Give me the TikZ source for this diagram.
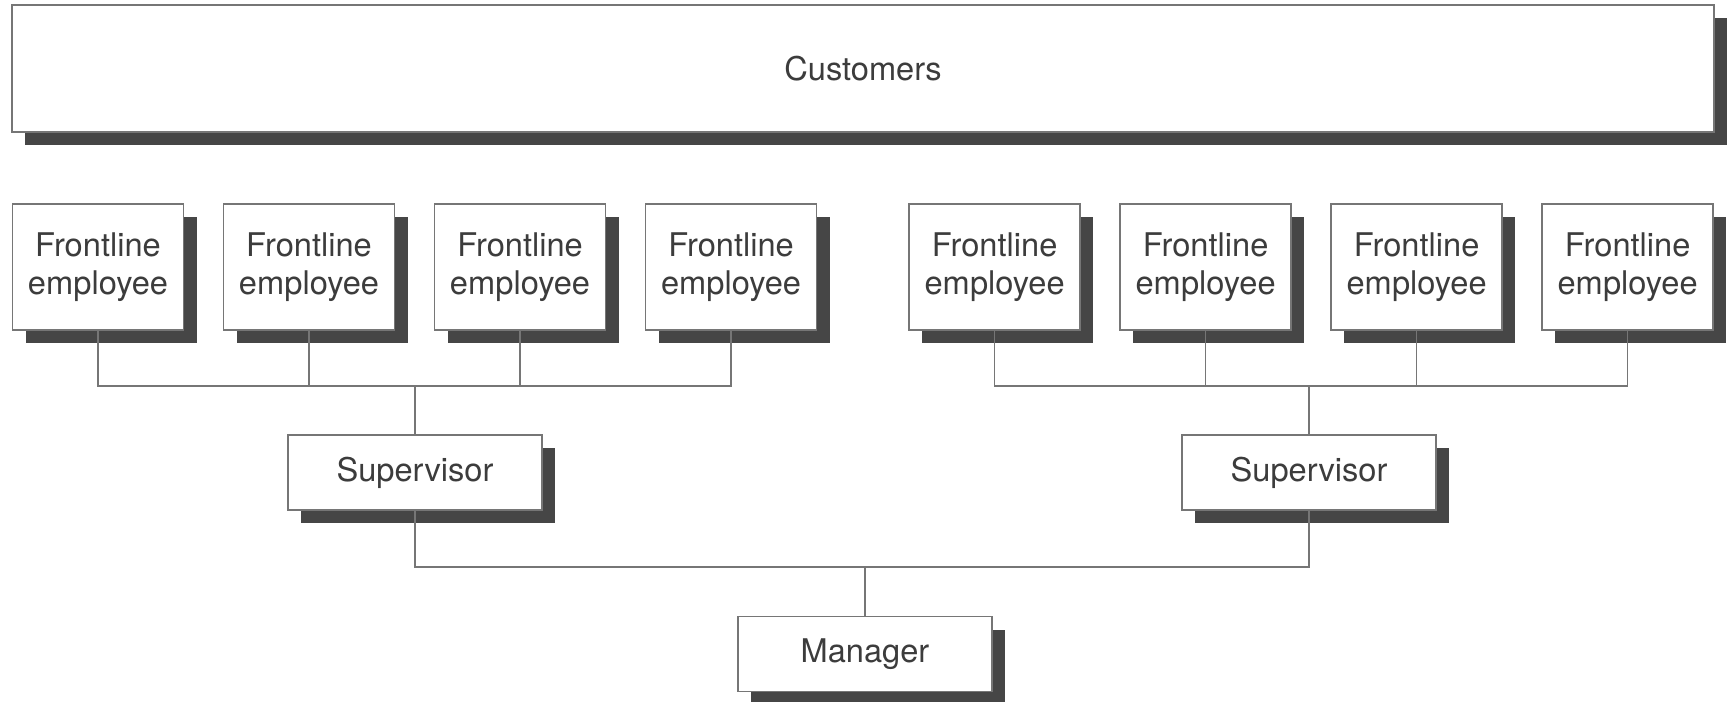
\documentclass[tikz,border=0pt]{standalone}
\usepackage{fontspec}
\setmainfont{TeX Gyre Heros}
\usetikzlibrary{positioning, shadows}
\definecolor{boxline}{HTML}{767676}
\definecolor{shade}{HTML}{464646}
\definecolor{txt}{HTML}{3C3C3C}

\begin{document}
\begin{tikzpicture}
			\tikzset {node distance=19.1pt, font=\fontsize{16.3}{19}\selectfont,
				box/.style={draw=boxline, line width=0.9pt, fill=white, text=txt, inner sep=0pt, align=center,
					drop shadow={shadow xshift=6.5pt, shadow yshift=-6.5pt, fill=shade, opacity=1}},
				front/.style={box, minimum width=85.5pt, minimum height=63pt},
				boss/.style={box, minimum width=127pt, minimum height=37.5pt},
				link/.style={draw=boxline, line width=0.8pt} }

			\useasboundingbox (0,0) rectangle (863.5pt,-350.5pt);

			\node[box, minimum width=851pt, minimum height=63.5pt] (C) at (431.5pt,-34.25pt) {Customers};

			\node[front]	(F1) at (49pt,-133.5pt)		{Frontline\\employee};
			\node[front]	(F2) [right=of F1]		{Frontline\\employee};
			\node[front]	(F3) [right=of F2]		{Frontline\\employee};
			\node[front]	(F4) [right=of F3]		{Frontline\\employee};
			\node[front]	(F5) [right=45.4pt of F4]	{Frontline\\employee};
			\node[front]	(F6) [right=of F5]		{Frontline\\employee};
			\node[front]	(F7) [right=of F6]		{Frontline\\employee};
			\node[front]	(F8) [right=of F7]		{Frontline\\employee};

			\node[boss]	(S1) at (207.5pt,-236.25pt)	{Supervisor};
			\node[boss]	(S2) at (654.5pt,-236.25pt)	{Supervisor};
			\node[boss]	(M) at (432.5pt,-327pt)		{Manager};

			% branch points
			\coordinate (B1) at (S1.north |- 0,-193pt);
			\coordinate (B2) at (S2.north |- 0,-193pt);
			\coordinate (B3) at (M.north |- 0,-283.5pt);

			\path[link]
				(F1.south) |- (B1) (F2.south) |- (B1) (F3.south) |- (B1) (F4.south) |- (B1)
				(B1) -- (S1.north)
				(F5.south) |- (B2) (F6.south) |- (B2) (F7.south) |- (B2) (F8.south) |- (B2)
				(B2) -- (S2.north)
				(S1.south) |- (B3) (S2.south) |- (B3)
				(B3) -- (M.north);

		\end{tikzpicture}
\end{document}
